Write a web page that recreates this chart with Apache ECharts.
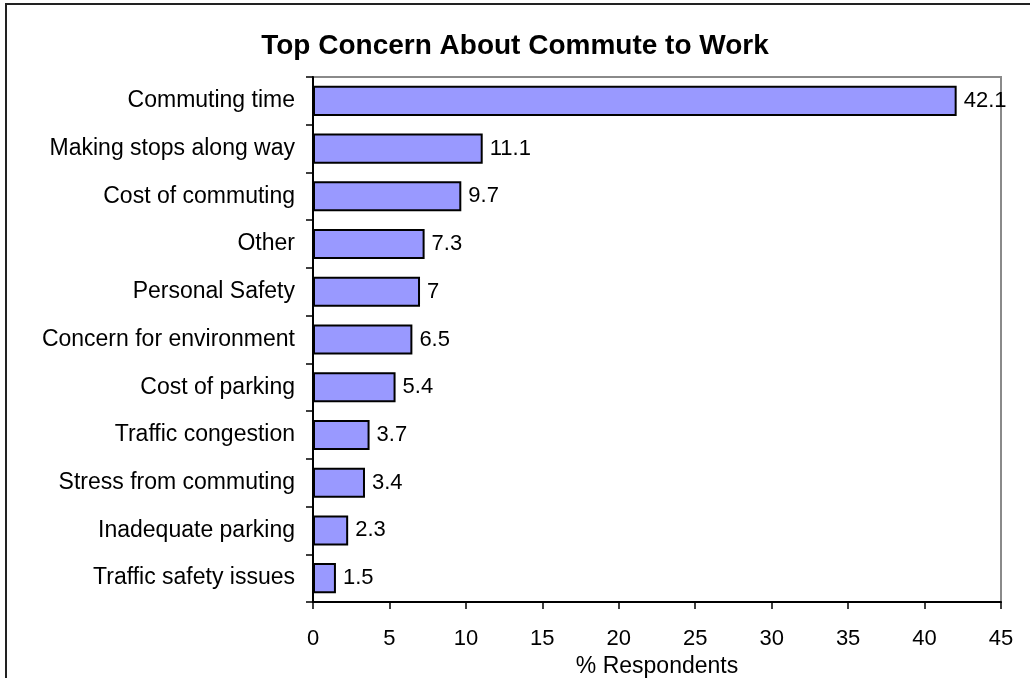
<!DOCTYPE html>
<html>
<head>
<meta charset="utf-8">
<script src="https://cdn.jsdelivr.net/npm/echarts@6/dist/echarts.min.js"></script>
<style>
  html, body { margin: 0; padding: 0; background: #fff; }
  #chart { width: 1030px; height: 678px; }
</style>
</head>
<body>
<div id="chart"></div>
<script>
// Survey results: top concern about the commute to work
const concerns = [
  'Commuting time',
  'Making stops along way',
  'Cost of commuting',
  'Other',
  'Personal Safety',
  'Concern for environment',
  'Cost of parking',
  'Traffic congestion',
  'Stress from commuting',
  'Inadequate parking',
  'Traffic safety issues'
];
const respondentsPct = [42.1, 11.1, 9.7, 7.3, 7, 6.5, 5.4, 3.7, 3.4, 2.3, 1.5];
const chartTitle = 'Top Concern About Commute to Work';
const xAxisTitle = '% Respondents';

const fontFamily = 'Arial, "Liberation Sans", Helvetica, sans-serif';
const chart = echarts.init(document.getElementById('chart'), null, { renderer: 'canvas' });

chart.setOption({
  backgroundColor: '#ffffff',
  animation: false,
  title: {
    text: chartTitle,
    left: 'center',
    top: 27,
    textStyle: { fontFamily, fontSize: 28, fontWeight: 'bold', color: '#000' }
  },
  graphic: [{
    type: 'rect',
    shape: { x: 6, y: 4, width: 1100, height: 800 },
    style: { fill: 'none', stroke: '#222', lineWidth: 2 },
    silent: true,
    z: -1
  }],
  grid: {
    left: 313,
    right: 29,
    top: 77,
    bottom: 76,
    outerBoundsMode: 'none',
    containLabel: false,
    show: true,
    borderColor: '#8a8a8a',
    borderWidth: 2,
    backgroundColor: '#fff'
  },
  xAxis: {
    type: 'value',
    min: 0,
    max: 45,
    interval: 5,
    name: xAxisTitle,
    nameLocation: 'middle',
    nameGap: 42,
    nameTextStyle: { fontFamily, fontSize: 23, color: '#000' },
    axisLine: { show: true, lineStyle: { color: '#000', width: 2 } },
    axisTick: { show: true, length: 7, lineStyle: { color: '#000', width: 1.5 } },
    axisLabel: { fontFamily, fontSize: 22, color: '#000', margin: 26 },
    splitLine: { show: false }
  },
  yAxis: {
    type: 'category',
    data: concerns,
    inverse: true,
    axisLine: { show: true, lineStyle: { color: '#000', width: 2 } },
    axisTick: { show: true, length: 7, alignWithLabel: false, lineStyle: { color: '#000', width: 1.5 } },
    axisLabel: { fontFamily, fontSize: 23, color: '#000', margin: 18 },
    splitLine: { show: false }
  },
  series: [{
    type: 'bar',
    data: respondentsPct,
    barCategoryGap: '37%',
    itemStyle: { color: '#9999ff', borderColor: '#000', borderWidth: 2 },
    label: {
      show: true,
      position: 'right',
      distance: 7,
      fontFamily,
      fontSize: 22,
      color: '#000'
    }
  }]
});
</script>
</body>
</html>
